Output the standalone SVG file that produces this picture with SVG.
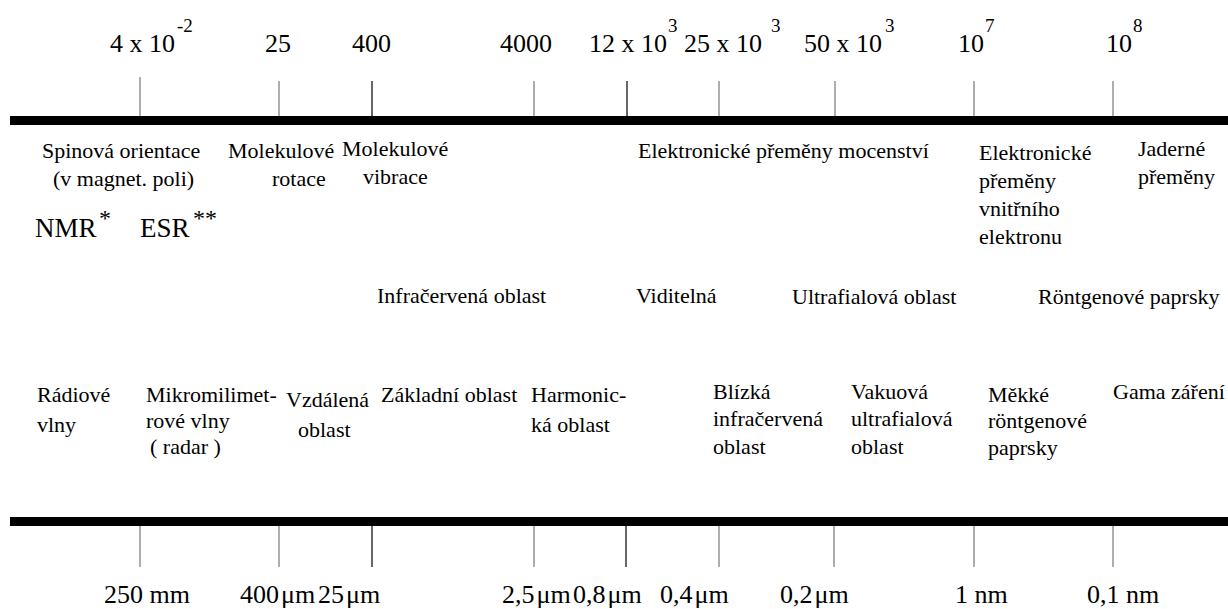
<svg xmlns="http://www.w3.org/2000/svg" width="1228" height="609" viewBox="0 0 1228 609">
<style>
text{font-family:'Liberation Serif','Times New Roman',serif;fill:#000}
.n{font-size:26px}
.s{font-size:19px}
.a{font-size:24px}
.l{font-size:22px}
.b{font-size:27px}
.tk{stroke:#777;stroke-width:1.2}
.tkb{stroke:#000;stroke-width:1.2}
</style>
<rect width="1228" height="609" fill="#fff"/>
<g id="axes">
<rect x="10" y="116" width="1218" height="9" fill="#000"/>
<rect x="10" y="517" width="1218" height="9" fill="#000"/>
</g>
<g id="connectors">
<line class="tk" x1="140" y1="77" x2="140" y2="116"/>
<line class="tk" x1="279" y1="81" x2="279" y2="116"/>
<line class="tkb" x1="372" y1="81" x2="372" y2="116"/>
<line class="tk" x1="534" y1="81" x2="534" y2="116"/>
<line class="tkb" x1="627" y1="81" x2="627" y2="116"/>
<line class="tk" x1="719" y1="81" x2="719" y2="116"/>
<line class="tk" x1="835" y1="81" x2="835" y2="116"/>
<line class="tk" x1="974" y1="81" x2="974" y2="116"/>
<line class="tk" x1="1113" y1="81" x2="1113" y2="116"/>
<line class="tk" x1="140" y1="526" x2="140" y2="567"/>
<line class="tk" x1="279" y1="526" x2="279" y2="567"/>
<line class="tkb" x1="372" y1="526" x2="372" y2="567"/>
<line class="tk" x1="534" y1="526" x2="534" y2="567"/>
<line class="tkb" x1="626" y1="526" x2="626" y2="567"/>
<line class="tk" x1="719" y1="526" x2="719" y2="567"/>
<line class="tk" x1="834" y1="526" x2="834" y2="567"/>
<line class="tk" x1="974" y1="526" x2="974" y2="567"/>
<line class="tk" x1="1113" y1="526" x2="1113" y2="567"/>
</g>
<g id="top-scale">
<text class="n" x="110" y="52">4 x 10</text><text class="s" x="177" y="32">-2</text>
<text class="n" x="265" y="52">25</text>
<text class="n" x="352" y="52">400</text>
<text class="n" x="500" y="52">4000</text>
<text class="n" x="589" y="52">12 x 10</text><text class="s" x="668" y="32">3</text>
<text class="n" x="684" y="52">25 x 10</text><text class="s" x="771" y="32">3</text>
<text class="n" x="804" y="52">50 x 10</text><text class="s" x="885" y="32">3</text>
<text class="n" x="958" y="52">10</text><text class="s" x="985" y="32">7</text>
<text class="n" x="1106" y="52">10</text><text class="s" x="1133" y="32">8</text>
</g>
<g id="transitions">
<text class="l" x="42" y="158">Spinová orientace</text>
<text class="l" x="53" y="186">(v magnet. poli)</text>
<text class="b" x="35" y="237">NMR</text><text class="a" x="99" y="226">*</text>
<text class="b" x="140" y="237">ESR</text><text class="a" x="193" y="226">**</text>
<text class="l" x="228" y="158">Molekulové</text>
<text class="l" x="272" y="186">rotace</text>
<text class="l" x="342" y="156">Molekulové</text>
<text class="l" x="363" y="184">vibrace</text>
<text class="l" x="638" y="158">Elektronické přeměny mocenství</text>
<text class="l" x="979" y="160">Elektronické</text>
<text class="l" x="979" y="188">přeměny</text>
<text class="l" x="979" y="216">vnitřního</text>
<text class="l" x="979" y="244">elektronu</text>
<text class="l" x="1138" y="156">Jaderné</text>
<text class="l" x="1138" y="184">přeměny</text>
</g>
<g id="regions">
<text class="l" x="377" y="303">Infračervená oblast</text>
<text class="l" x="636" y="303">Viditelná</text>
<text class="l" x="792" y="304">Ultrafialová oblast</text>
<text class="l" x="1038" y="304">Röntgenové paprsky</text>
</g>
<g id="subregions">
<text class="l" x="37" y="402">Rádiové</text>
<text class="l" x="37" y="432">vlny</text>
<text class="l" x="146" y="402">Mikromilimet-</text>
<text class="l" x="146" y="428">rové vlny</text>
<text class="l" x="150" y="454">( radar )</text>
<text class="l" x="286" y="407">Vzdálená</text>
<text class="l" x="298" y="437">oblast</text>
<text class="l" x="381" y="402">Základní oblast</text>
<text class="l" x="531" y="402">Harmonic-</text>
<text class="l" x="531" y="432">ká oblast</text>
<text class="l" x="713" y="399">Blízká</text>
<text class="l" x="713" y="426">infračervená</text>
<text class="l" x="713" y="454">oblast</text>
<text class="l" x="851" y="399">Vakuová</text>
<text class="l" x="851" y="426">ultrafialová</text>
<text class="l" x="851" y="454">oblast</text>
<text class="l" x="988" y="402">Měkké</text>
<text class="l" x="988" y="428">röntgenové</text>
<text class="l" x="988" y="455">paprsky</text>
<text class="l" x="1113" y="399">Gama záření</text>
</g>
<g id="bottom-scale">
<text class="n" x="104" y="603">250 mm</text>
<text class="n" x="240" y="603">400<tspan dx="2">μm</tspan></text>
<text class="n" x="318" y="603">25<tspan dx="2">μm</tspan></text>
<text class="n" x="502" y="603">2,5<tspan dx="2">μm</tspan></text>
<text class="n" x="573" y="603">0,8<tspan dx="2">μm</tspan></text>
<text class="n" x="660" y="603">0,4<tspan dx="2">μm</tspan></text>
<text class="n" x="780" y="603">0,2<tspan dx="2">μm</tspan></text>
<text class="n" x="955" y="603">1 nm</text>
<text class="n" x="1087" y="603">0,1 nm</text>
</g>
</svg>
